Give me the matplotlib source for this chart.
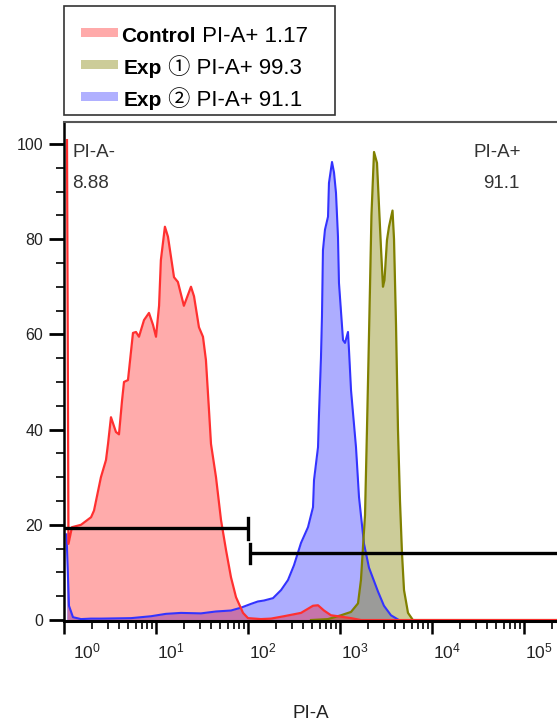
import matplotlib
matplotlib.use('Agg')
import matplotlib.pyplot as plt
import matplotlib.transforms as mtransforms
from matplotlib.patches import Rectangle
from matplotlib.ticker import LogLocator, MultipleLocator, NullFormatter, FixedLocator

plt.rcParams['font.family'] = ['Liberation Sans', 'Noto Sans CJK JP', 'DejaVu Sans']
plt.rcParams['mathtext.fontset'] = 'custom'
plt.rcParams['mathtext.rm'] = 'Liberation Sans'
plt.rcParams['mathtext.it'] = 'Liberation Sans'

# 直方图数据: PI-A 强度 / 相对计数
ctrl_x = [1.078, 1.119, 1.22, 1.53, 1.97, 2.12, 2.34, 2.52, 2.86, 3.01, 3.24, 3.67, 3.96,
          4.27, 4.49, 4.96, 5.62, 6.06, 6.53, 7.41, 8.39, 9.28, 10.0, 10.8, 11.3, 12.5,
          13.5, 15.7, 17.3, 20.1, 24.0, 25.9, 29.3, 32.4, 34.9, 37.7, 39.6, 44.9, 50.9,
          57.7, 65.3, 74.1, 88.3, 100, 138, 178, 246, 377, 509, 577, 670, 798, 951,
          1318, 1690, 234000]
ctrl_y = [100.8, 16, 19.5, 20, 21.6, 23, 27, 30, 33.6, 37, 42.6, 39.5, 39,
          46, 50, 50.4, 60.3, 60.5, 59.5, 63, 64.5, 62, 59.5, 66, 75.6, 82.6,
          80.5, 72, 71, 66, 70, 68, 61.5, 59.5, 54.6, 44, 37, 30, 21,
          14.7, 9, 4.8, 1.5, 0.4, 0.2, 0.3, 0.8, 1.5, 3.0, 3.1, 2.0, 1.0, 0.8,
          0.4, 0, 0]

exp2_x = [1.065, 1.133, 1.252, 1.53, 1.96, 2.52, 5.35, 8.83, 12.8, 18.7, 30.8, 44.9,
          65.3, 83.9, 108, 128, 149, 187, 229, 272, 316, 377, 449, 509, 522, 577,
          592, 621, 637, 653, 687, 741, 759, 819, 861, 905, 951, 975, 1079, 1134,
          1222, 1253, 1318, 1385, 1493, 1610, 1825, 2067, 2588, 3006, 3583, 4376,
          234000]
exp2_y = [18, 3, 0.6, 0.2, 0.3, 0.3, 0.4, 0.8, 1.3, 1.5, 1.4, 1.8,
          2.0, 2.6, 3.4, 3.9, 4.1, 4.6, 6.3, 8.4, 11.5, 16.2, 19.5, 23.7, 29.4, 36.3,
          43.5, 55, 63.7, 77.7, 82, 84.7, 91.8, 96.2, 94, 89.7, 80.5, 70.8, 58.8, 58.2,
          60.5, 56.7, 48.3, 43.5, 36.3, 25.8, 16, 11, 6, 3, 1, 0,
          0]

exp1_x = [484, 741, 1026, 1318, 1570, 1690, 1778, 1871, 1965, 2042, 2120, 2198, 2344,
          2525, 2655, 2793, 2933, 3045, 3242, 3409, 3724, 3866, 4065, 4270, 4490,
          4722, 4965, 5488, 6210, 234000]
exp1_y = [0, 0.2, 1, 1.7, 3.5, 8.4, 15.3, 22, 40, 55, 70, 85, 98.3,
          96, 87, 78, 70, 71.4, 79.8, 82.6, 86, 80, 62, 40, 25,
          14, 6.3, 1.5, 0, 0]

legend_names = ['Control', 'Exp', 'Exp']
legend_rest = [' PI-A+ 1.17', ' \u2460 PI-A+ 99.3', ' \u2461 PI-A+ 91.1']
legend_fill = ['#ffaaaa', '#cccc99', '#b0b0ff']

gate_names = ['PI-A-', 'PI-A+']
gate_values = ['8.88', '91.1']
neg_gate = [1.0, 100, 19.3]
pos_gate = [105, 234000, 14.0]

W, H = 557, 725


def fx(px):
    return px / W


def fy(py):
    return 1 - py / H


fig = plt.figure(figsize=(W / 100, H / 100), dpi=100)
ax = fig.add_axes([fx(64), fy(621), fx(557) - fx(64), fy(122) - fy(621)])

ax.set_xscale('log')
ax.set_xlim(1.0, 10 ** 5.359)
ax.set_ylim(-0.2, 104.6)

# 先画 Exp2, 再 Exp1, 最后 Control
ax.fill_between(exp2_x, exp2_y, 0, color='#0000ff', alpha=0.32, lw=0)
ax.plot(exp2_x, exp2_y, color='#3333ff', lw=1.5)
ax.fill_between(exp1_x, exp1_y, 0, color='#808000', alpha=0.4, lw=0)
ax.plot(exp1_x, exp1_y, color='#808000', lw=1.6)
ax.fill_between(ctrl_x, ctrl_y, 0, color='#ff0000', alpha=0.33, lw=0)
ax.plot(ctrl_x, ctrl_y, color='#ff3030', lw=1.6)

# 门
ax.plot(neg_gate[:2], [neg_gate[2]] * 2, color='black', lw=2.4, solid_capstyle='butt')
ax.plot([neg_gate[1]] * 2, [neg_gate[2] - 2.2, neg_gate[2] + 2.2], color='black', lw=2.4)
ax.plot(pos_gate[:2], [pos_gate[2]] * 2, color='black', lw=2.4, solid_capstyle='butt')
ax.plot([pos_gate[0]] * 2, [pos_gate[2] - 2.0, pos_gate[2] + 2.0], color='black', lw=2.4)

# 坐标轴样式
ax.spines['right'].set_visible(False)
ax.spines['top'].set_color('#555555')
ax.spines['top'].set_linewidth(1.5)
ax.spines['left'].set_linewidth(1.8)
ax.spines['bottom'].set_linewidth(2.2)

ax.yaxis.set_major_locator(FixedLocator([0, 20, 40, 60, 80, 100]))
ax.yaxis.set_minor_locator(MultipleLocator(5))
ax.tick_params(axis='y', which='major', length=11, width=2, pad=4, labelsize=11.5,
               labelcolor='#222222')
ax.tick_params(axis='y', which='minor', length=5.5, width=1.2)

decades = [1, 10, 100, 1000, 10000, 100000]
ax.xaxis.set_major_locator(FixedLocator(decades))
ax.set_xticklabels([r'$10^{%d}$' % i for i in range(len(decades))])
ax.xaxis.set_minor_locator(LogLocator(base=10, subs=range(2, 10)))
ax.xaxis.set_minor_formatter(NullFormatter())
ax.tick_params(axis='x', which='major', length=9.5, width=1.8, pad=5, labelsize=12.5,
               labelcolor='#222222')
ax.tick_params(axis='x', which='minor', length=5.5, width=1.2)
for i, lab in enumerate(ax.get_xticklabels()):
    lab.set_horizontalalignment('left')
    shift = 9 if i == 0 else 1
    lab.set_transform(lab.get_transform() +
                      mtransforms.ScaledTranslation(shift / 100, 0, fig.dpi_scale_trans))

ax.set_xlabel('PI-A', fontsize=13.5, color='#222222')
ax.xaxis.set_label_coords((311 - 64) / 493, -0.168)

# 门标签
ax.text(fx(72), fy(144), gate_names[0], transform=fig.transFigure, fontsize=13.5,
        color='#333333', va='top', ha='left')
ax.text(fx(72), fy(175), gate_values[0], transform=fig.transFigure, fontsize=13.5,
        color='#333333', va='top', ha='left')
ax.text(fx(497), fy(144), gate_names[1], transform=fig.transFigure, fontsize=13.5,
        color='#333333', va='top', ha='center')
ax.text(fx(501), fy(175), gate_values[1], transform=fig.transFigure, fontsize=13.5,
        color='#333333', va='top', ha='center')

# 图例
fig.patches.append(Rectangle((fx(64), fy(115)), fx(335) - fx(64), fy(6) - fy(115),
                             transform=fig.transFigure, fill=False, ec='#333333', lw=1.2))
baselines = [42, 74, 106]
starts = [121, 124, 124]
for i in range(3):
    fig.patches.append(Rectangle((fx(81), fy(baselines[i] - 5)), fx(118) - fx(81), 9 / H,
                                 transform=fig.transFigure, color=legend_fill[i], lw=0))
    t = fig.text(fx(starts[i]), fy(baselines[i]), legend_names[i], fontsize=15,
                 weight='bold', va='baseline', ha='left', color='black')
    ax.annotate(legend_rest[i], xy=(1, fy(baselines[i])), xycoords=(t, 'figure fraction'),
                va='baseline', ha='left', fontsize=16, color='black',
                annotation_clip=False)

fig.savefig('out.png', dpi=100)
